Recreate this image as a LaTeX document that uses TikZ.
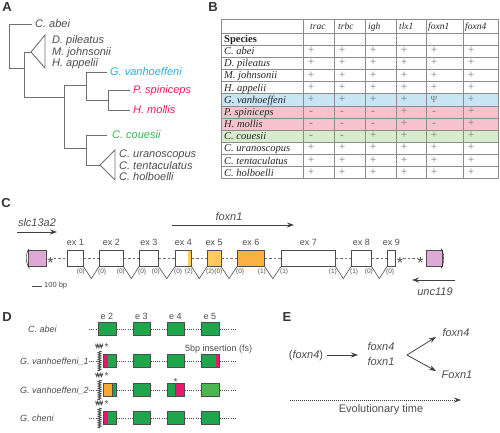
\documentclass[tikz,border=0pt]{standalone}
\usepackage{fontspec}
\setmainfont{Liberation Serif}
\setsansfont{Liberation Sans}
\usetikzlibrary{arrows.meta,decorations.pathmorphing,calc}
\definecolor{txt}{HTML}{4D4D4D}
\definecolor{treec}{HTML}{707070}
\definecolor{cblue}{HTML}{29ABE2}
\definecolor{cred}{HTML}{EC1C5A}
\definecolor{cgreen}{HTML}{39B54A}
\definecolor{rowblue}{HTML}{C8E5F4}
\definecolor{rowpink}{HTML}{F6C3CD}
\definecolor{rowgreen}{HTML}{D7EBCD}
\definecolor{gridc}{HTML}{8C8C8C}
\definecolor{signc}{HTML}{7A7A7A}
\definecolor{purp}{HTML}{DCAAD5}
\definecolor{orl}{HTML}{FFCC5C}
\definecolor{ord}{HTML}{FBB040}
\definecolor{gbox}{HTML}{1FA64C}
\definecolor{gboxl}{HTML}{4CB74F}
\definecolor{rbox}{HTML}{E8196A}
\definecolor{obox}{HTML}{F7A934}
\definecolor{exb}{HTML}{4D4D4D}
\definecolor{arrc}{HTML}{404040}
\newcommand\trow[8]{%
  \node[tsp] (r#1) at (224,{39.1+12.15*#1}) {#2};
  \node[sign] (c#1a) at (311,{39.1+12.15*#1}) {#3};
  \node[sign] (c#1b) at (342,{39.1+12.15*#1}) {#4};
  \node[sign] (c#1c) at (373,{39.1+12.15*#1}) {#5};
  \node[sign] (c#1d) at (404,{39.1+12.15*#1}) {#6};
  \node[sign] (c#1e) at (434,{39.1+12.15*#1}) {#7};
  \node[sign] (c#1f) at (471,{39.1+12.15*#1}) {#8};
}
\begin{document}
\begin{tikzpicture}[x=1pt,y=-1pt,
  panel/.style={font=\sffamily\bfseries\fontsize{13}{14}\selectfont, text=black!80, inner sep=0},
  sp/.style={font=\sffamily\itshape\fontsize{11}{12}\selectfont, text=txt, anchor=west, inner sep=0, text height=0.7em, text depth=0pt},
  tree/.style={draw=treec, line width=0.9pt},
  tsp/.style={font=\itshape\fontsize{10.5}{12}\selectfont, text=black!85, anchor=west, inner sep=0, text height=0.68em, text depth=0pt},
  gh/.style={font=\itshape\fontsize{9.5}{11}\selectfont, text=black!85, anchor=west, inner sep=0, text height=0.68em, text depth=0pt},
  sign/.style={font=\fontsize{11.5}{12}\selectfont, text=signc, inner sep=0, text height=0.5em, text depth=0pt},
  gridl/.style={draw=gridc, line width=0.8pt},
  exon/.style={draw=exb, line width=0.6pt, minimum height=16pt, inner sep=0, anchor=north west, fill=white},
  exl/.style={font=\sffamily\fontsize{9}{10}\selectfont, text=txt, inner sep=0, text height=0.7em, text depth=0pt},
  ph/.style={font=\sffamily\fontsize{6.5}{7}\selectfont, text=txt, inner sep=0},
  gene/.style={font=\sffamily\itshape\fontsize{11}{12}\selectfont, text=txt, inner sep=0, text height=0.7em, text depth=0pt},
  garr/.style={draw=arrc, line width=0.9pt, -{Stealth[length=7pt,width=5pt]}},
  dashline/.style={draw=treec, line width=0.8pt, dash pattern=on 2.5pt off 2pt},
  intron/.style={draw=exb, line width=0.6pt},
  astk/.style={font=\sffamily\fontsize{16}{16}\selectfont, text=exb, inner sep=0, anchor=base},
  dbox/.style={draw=exb, line width=0.6pt, fill=gbox, minimum height=13pt, inner sep=0, anchor=west},
  dl/.style={font=\sffamily\itshape\fontsize{9}{10}\selectfont, text=txt, anchor=west, inner sep=0, text height=0.7em, text depth=0pt},
  dotl/.style={draw=exb, line width=0.6pt, dash pattern=on 1pt off 1.2pt},
  squig/.style={draw=exb, line width=0.9pt, decorate, decoration={zigzag, segment length=2.2pt, amplitude=1.4pt}},
  etxt/.style={font=\sffamily\fontsize{11}{12}\selectfont, text=txt, inner sep=0, text height=0.7em, text depth=0pt},
  earr/.style={draw=arrc, line width=0.8pt, -{Stealth[length=7pt,width=5pt]}}
]
\useasboundingbox (0,0) rectangle (500,432);

% ---------- panel labels
\node[panel] (A) at (7,7) {A};
\node[panel] (B) at (213,7) {B};
\node[panel] (C) at (6,203) {C};
\node[panel] (D) at (7,317) {D};
\node[panel] (E) at (287,317) {E};

% ---------- Panel A: tree
\draw[tree] (32,24) -- (9,24) -- (9,68) -- (24,68);
\draw[tree] (31,52) -- (24,52) -- (24,97) -- (64,97);
\draw[tree] (31,52) -- (45,35) -- (45,68) -- cycle;
\draw[tree] (86,85) -- (64,85) -- (64,148) -- (86,148);
\draw[tree] (107,72) -- (86,72) -- (86,100) -- (108,100);
\draw[tree] (130,90) -- (108,90) -- (108,110) -- (130,110);
\draw[tree] (107,135) -- (86,135) -- (86,165) -- (100,165);
\draw[tree] (100,165) -- (115,150) -- (115,180) -- cycle;
\node[sp] (ta) at (35,24) {C. abei};
\node[sp] (tb) at (52,40) {D. pileatus};
\node[sp] (tc) at (52,52) {M. johnsonii};
\node[sp] (td) at (52,63) {H. appelii};
\node[sp,text=cblue] (te) at (110,72) {G. vanhoeffeni};
\node[sp,text=cred] (tf) at (133,90) {P. spiniceps};
\node[sp,text=cred] (tg) at (133,110) {H. mollis};
\node[sp,text=cgreen] (th) at (112,135) {C. couesii};
\node[sp] (ti) at (119,154) {C. uranoscopus};
\node[sp] (tj) at (119,165.5) {C. tentaculatus};
\node[sp] (tk) at (119,177) {C. holboelli};

% ---------- Panel B: table
\fill[rowblue] (221,93.75) rectangle (498,105.9);
\fill[rowpink] (221,105.9) rectangle (498,130.2);
\fill[rowgreen] (221,130.2) rectangle (498,142.35);
\draw[gridl] (221,19) -- (498,19);
\draw[gridl] (221,33) -- (498,33);
\foreach \k in {1,...,12} \draw[gridl] (221,{33+12.15*\k}) -- (498,{33+12.15*\k});
\foreach \xx in {221,303,334,365,396,426,463,498} \draw[gridl] (\xx,19) -- (\xx,178.8);
\node[gh] (g1) at (310,26) {trac};
\node[gh] (g2) at (338,26) {trbc};
\node[gh] (g3) at (368,26) {igh};
\node[gh] (g4) at (399,26) {tlx1};
\node[gh] (g5) at (428,26) {foxn1};
\node[gh] (g6) at (465,26) {foxn4};
\node[tsp,font=\bfseries\fontsize{10.5}{12}\selectfont] (spec) at (224,39.1) {Species};
\trow{1}{C. abei}{+}{+}{+}{+}{+}{+}
\trow{2}{D. pileatus}{+}{+}{+}{+}{+}{+}
\trow{3}{M. johnsonii}{+}{+}{+}{+}{+}{+}
\trow{4}{H. appelii}{+}{+}{+}{+}{+}{+}
\trow{5}{G. vanhoeffeni}{+}{+}{+}{+}{\fontsize{9}{9}\selectfont Ψ}{+}
\trow{6}{P. spiniceps}{-}{-}{-}{+}{-}{+}
\trow{7}{H. mollis}{-}{-}{-}{+}{-}{+}
\trow{8}{C. couesii}{-}{-}{+}{+}{+}{+}
\trow{9}{C. uranoscopus}{+}{+}{+}{+}{+}{+}
\trow{10}{C. tentaculatus}{+}{+}{+}{+}{+}{+}
\trow{11}{C. holboelli}{+}{+}{+}{+}{+}{+}

% ---------- Panel C: gene structure
\node[gene] (slc) at (37,223) {slc13a2};
\coordinate (slcA) at (17,232); \coordinate (slcB) at (57,232);
\draw[garr] (slcA) -- (slcB);
\node[gene] (fx1) at (229,217) {foxn1};
\coordinate (fxA) at (172,225); \coordinate (fxB) at (294,225);
\draw[garr] (fxA) -- (fxB);
\node[gene] (unc) at (435,292) {unc119};
\coordinate (uA) at (455,280); \coordinate (uB) at (412,280);
\draw[garr] (uA) -- (uB);

\node[exon,fill=purp,minimum width=18pt] (p1) at (28,250) {};
\node[exon,minimum width=16pt] (e1) at (67,250) {};
\node[exon,minimum width=24pt] (e2) at (99,250) {};
\node[exon,minimum width=19pt] (e3) at (139,250) {};
\node[exon,minimum width=16pt, path picture={\fill[orl] ([xshift=-3pt]path picture bounding box.north east) rectangle (path picture bounding box.south east);}] (e4) at (175,250) {};
\node[exon,fill=orl,minimum width=13.5pt] (e5) at (207,250) {};
\node[exon,fill=ord,minimum width=27pt] (e6) at (237,250) {};
\node[exon,minimum width=54pt] (e7) at (281,250) {};
\node[exon,minimum width=20pt] (e8) at (351,250) {};
\node[exon,minimum width=8pt] (e9) at (387,250) {};
\node[exon,fill=purp,minimum width=16pt] (p2) at (426,250) {};
\node[astk] (s1) at (50.5,268.5) {*};
\node[astk] (s2) at (400,268.5) {*};
\node[astk] (s3) at (420.5,268.5) {*};
\draw (29,249) .. controls (25.5,253) and (25.5,264) .. (29.5,268.5);
\draw (441,248.5) .. controls (444.5,252) and (444.5,264) .. (441,268.5);

\draw[dashline] (s1.east |- e1.west) -- (e1.west);
\foreach \a/\b in {e1/e2,e2/e3,e3/e4,e4/e5,e5/e6,e6/e7,e7/e8,e8/e9}{
  \draw[dashline] (\a.east) -- (\b.west);
  \draw[intron] (\a.south east) -- ($(\a.south east)!0.5!(\b.south west)+(0,12)$) -- (\b.south west);
}
\draw[dashline] (s2.east |- e9.east) -- (s3.west |- e9.east);

\foreach \e/\t in {e1/ex 1,e2/ex 2,e3/ex 3,e4/ex 4,e5/ex 5,e6/ex 6,e7/ex 7,e8/ex 8,e9/ex 9}
  \node[exl] (l\e) at ($(\e.north)+(0,-8)$) {\t};

\foreach \e/\p in {e1/0,e2/0,e3/0,e4/2,e5/0,e6/1,e7/1,e8/0}
  \node[ph,anchor=north east] (pr\e) at ($(\e.south east)+(1.5,2)$) {(\p)};
\foreach \e/\p in {e2/0,e3/0,e4/0,e5/2,e6/0,e7/1,e8/1,e9/0}
  \node[ph,anchor=north west] (pl\e) at ($(\e.south west)+(-1,2)$) {(\p)};

\coordinate (sbA) at (32,286); \coordinate (sbB) at (42,286);
\draw[draw=exb,line width=0.6pt] (sbA) -- (sbB);
\node[ph,font=\sffamily\fontsize{7.5}{8}\selectfont,anchor=west] (sb) at (44,286) {100 bp};

% ---------- Panel D
\node[exl] (h2) at (107,316) {e 2};
\node[exl] (h3) at (141.5,316) {e 3};
\node[exl] (h4) at (175.5,316) {e 4};
\node[exl] (h5) at (210,316) {e 5};

% row 1
\node[dl] (n1) at (28,329) {C. abei};
\coordinate (r1s) at (89,329); \coordinate (r1e) at (237,329);
\node[dbox,minimum width=18pt] (r1a) at (98,329) {};
\node[dbox,minimum width=17pt] (r1b) at (133,329) {};
\node[dbox,minimum width=17pt] (r1c) at (167,329) {};
\node[dbox,minimum width=18pt] (r1d) at (201,329) {};
\draw[dotl] (r1s) -- (r1a) (r1a) -- (r1b) (r1b) -- (r1c) (r1c) -- (r1d) (r1d) -- (r1e);

% rows 2-4
\foreach \r/\y/\lab in {2/361/G. vanhoeffeni\_1,3/390/G. vanhoeffeni\_2,4/418/G. cheni}{
  \node[dl] (n\r) at (20,\y) {\lab};
  \coordinate (r\r s) at (89,\y); \coordinate (r\r q) at (97,\y); \coordinate (r\r e) at (237,\y);
  \coordinate (q\r t) at (99.5,\y-10); \coordinate (q\r b) at (99.5,\y+10);
  \draw[dotl] (r\r s) -- (r\r q);
}
\node[dbox,minimum width=13pt,path picture={\fill[rbox] (path picture bounding box.north west) rectangle ([xshift=5pt]path picture bounding box.south west);}] (r2a) at (103,361) {};
\node[dbox,minimum width=17pt] (r2b) at (133,361) {};
\node[dbox,minimum width=17pt] (r2c) at (167,361) {};
\node[dbox,minimum width=18pt,path picture={\fill[rbox] ([xshift=-3.5pt]path picture bounding box.north east) rectangle (path picture bounding box.south east);}] (r2d) at (201,361) {};

\node[dbox,minimum width=13pt,path picture={\fill[obox] (path picture bounding box.north west) rectangle ([xshift=9pt]path picture bounding box.south west); \draw[exb,line width=0.6pt] ([xshift=9pt]path picture bounding box.north west) -- ([xshift=9pt]path picture bounding box.south west);}] (r3a) at (103,390) {};
\node[dbox,minimum width=17pt] (r3b) at (133,390) {};
\node[dbox,minimum width=17pt,path picture={\fill[rbox] ([xshift=-9pt]path picture bounding box.north east) rectangle (path picture bounding box.south east);\draw[exb,line width=0.6pt] ([xshift=-9pt]path picture bounding box.north east) -- ([xshift=-9pt]path picture bounding box.south east);}] (r3c) at (167,390) {};
\node[dbox,fill=gboxl,minimum width=18pt] (r3d) at (201,390) {};

\node[dbox,minimum width=13pt,path picture={\fill[rbox] (path picture bounding box.north west) rectangle ([xshift=4.5pt]path picture bounding box.south west);}] (r4a) at (103,418) {};
\node[dbox,minimum width=17pt] (r4b) at (133,418) {};
\node[dbox,minimum width=17pt] (r4c) at (167,418) {};
\node[dbox,minimum width=18pt] (r4d) at (201,418) {};

\foreach \r in {2,3,4}{
  \draw[dotl] (r\r a) -- (r\r b) (r\r b) -- (r\r c) (r\r c) -- (r\r d) (r\r d) -- (r\r e);
  \draw[squig] (q\r t) -- (q\r b);
}
\foreach \r/\y in {2/361,3/390,4/418}{
  \coordinate (w\r a) at (95.5,\y-15); \coordinate (w\r b) at (103,\y-15);
  \draw[squig,line width=0.6pt,decoration={zigzag,segment length=1.6pt,amplitude=1.6pt}] (w\r a) -- (w\r b);
  \node[astk,font=\sffamily\fontsize{10}{10}\selectfont] (k\r) at (106.5,\y-10.5) {*};
}
\node[astk,font=\sffamily\fontsize{10}{10}\selectfont] (k5) at (175.5,385) {*};
\node[dl,font=\sffamily\fontsize{9}{10}\selectfont] (ins) at (185,348) {5bp insertion (fs)};

% ---------- Panel E
\node[etxt] (f0) at (306,355) {(\textit{foxn4})};
\node[etxt] (m1) at (381,347) {\textit{foxn4}};
\node[etxt] (m2) at (381,362) {\textit{foxn1}};
\node[etxt] (t4) at (456,333) {\textit{foxn4}};
\node[etxt] (t1) at (457,375) {\textit{Foxn1}};
\coordinate (ea) at (327,355); \coordinate (eb) at (358,355);
\draw[earr] (ea) -- (eb);
\coordinate (ev) at (407,355);
\coordinate (eu) at (436,337); \coordinate (ed) at (436,371);
\draw[earr] (ev) -- (eu);
\draw[earr] (ev) -- (ed);
\coordinate (ts) at (290,400); \coordinate (te) at (461,400);
\draw[draw=arrc, line width=0.9pt, dash pattern=on 1pt off 1pt, -{Stealth[length=7pt,width=5pt]}] (ts) -- (te);
\node[etxt] (evo) at (381,409) {Evolutionary time};
\end{tikzpicture}
\end{document}
